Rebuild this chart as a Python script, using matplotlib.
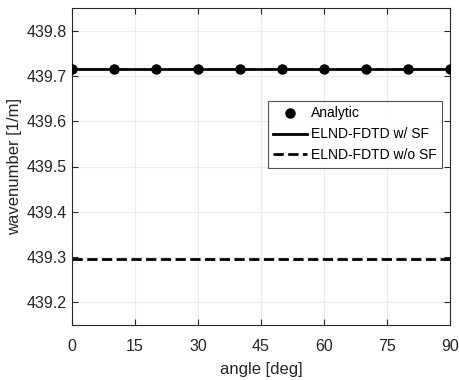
import matplotlib
matplotlib.use("Agg")
import matplotlib.pyplot as plt
import numpy as np

angles = [0, 10, 20, 30, 40, 50, 60, 70, 80, 90]
analytic = [439.715] * 10
line_angles = [0, 90]
with_sf = [439.715, 439.715]
without_sf = [439.295, 439.295]

plt.rcParams['font.family'] = ['Liberation Sans', 'DejaVu Sans']

fig = plt.figure(figsize=(4.59, 3.80), dpi=100)
ax = fig.add_axes([72/459, 1-325/380, (450-72)/459, (325-8)/380])

ax.plot(angles, analytic, 'o', color='black', markersize=6.5, label='Analytic', zorder=3)
ax.plot(line_angles, with_sf, '-', color='black', linewidth=2, label='ELND-FDTD w/ SF')
ax.plot(line_angles, without_sf, '--', color='black', linewidth=2, label='ELND-FDTD w/o SF')

ax.set_xlim(0, 90)
ax.set_ylim(439.15, 439.85)
ax.set_xticks([0, 15, 30, 45, 60, 75, 90])
ax.set_yticks([439.2, 439.3, 439.4, 439.5, 439.6, 439.7, 439.8])
ax.set_yticklabels(['439.2', '439.3', '439.4', '439.5', '439.6', '439.7', '439.8'])
ax.grid(True, color='#ececec', linewidth=0.8)
ax.set_axisbelow(True)
ax.tick_params(direction='in', top=True, right=True, labelsize=11.5, colors='#262626', length=4)
ax.tick_params(axis='x', pad=10)
ax.tick_params(axis='y', pad=4)
for s in ax.spines.values():
    s.set_color('#262626')
    s.set_linewidth(0.8)
ax.set_xlabel('angle [deg]', fontsize=12, color='#262626', labelpad=6)
ax.set_ylabel('wavenumber [1/m]', fontsize=12, color='#262626', labelpad=3)

leg = ax.legend(loc='upper right', bbox_to_anchor=(0.979, 0.707), fontsize=10, frameon=True,
                fancybox=False, edgecolor='#262626', handlelength=2.4, handletextpad=0.3,
                borderpad=0.4, labelspacing=0.5, borderaxespad=0)
leg.get_frame().set_linewidth(0.8)

fig.savefig('out.png', dpi=100)
